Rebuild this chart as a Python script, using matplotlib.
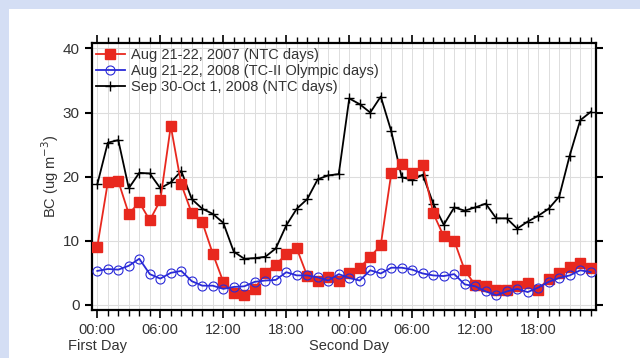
import matplotlib.pyplot as plt
import matplotlib.patches as mpatches
import numpy as np

plt.rcParams['font.family'] = ['Liberation Sans', 'DejaVu Sans']

# hourly BC values over two days (hour 0..47)
hours = np.arange(48)

bc_2007_aug = [9.1, 19.1, 19.3, 14.2, 16.0, 13.2, 16.3, 27.9, 18.8, 14.3, 12.9, 8.0,
               3.6, 1.8, 1.5, 2.5, 5.0, 6.3, 7.9, 8.8, 4.5, 3.8, 4.4, 3.8,
               5.0, 5.8, 7.5, 9.3, 20.5, 22.0, 20.5, 21.8, 14.3, 10.7, 10.0, 5.4,
               3.1, 2.9, 2.4, 2.25, 3.0, 3.4, 2.4, 4.1, 4.9, 5.9, 6.6, 5.7]

bc_2008_aug = [5.3, 5.6, 5.5, 6.1, 7.2, 4.8, 4.1, 5.0, 5.3, 3.7, 3.0, 3.0,
               2.5, 2.8, 2.9, 3.6, 3.8, 3.9, 5.1, 4.6, 4.6, 4.3, 3.8, 4.8,
               4.2, 3.8, 5.4, 4.9, 5.8, 5.8, 5.5, 4.9, 4.6, 4.5, 4.8, 3.2,
               2.9, 2.1, 1.5, 2.1, 2.5, 2.0, 2.7, 3.6, 4.2, 4.6, 5.4, 5.1]

bc_2008_oct = [18.8, 25.3, 25.7, 18.2, 20.6, 20.5, 18.2, 19.1, 20.9, 16.5, 15.0, 14.2,
               12.8, 8.3, 7.2, 7.3, 7.5, 8.8, 12.4, 15.0, 16.5, 19.6, 20.2, 20.4,
               32.2, 31.3, 30.0, 32.5, 27.1, 19.9, 19.5, 20.3, 15.8, 12.5, 15.2, 14.7,
               15.2, 15.8, 13.5, 13.5, 11.9, 13.0, 13.9, 15.0, 16.9, 23.3, 28.8, 30.1]

tick_hours = [0, 6, 12, 18, 24, 30, 36, 42]
tick_labels = ['00:00\nFirst Day', '06:00', '12:00', '18:00',
               '00:00\nSecond Day', '06:00', '12:00', '18:00']

fig = plt.figure(figsize=(6.4, 3.58), dpi=100, facecolor='#d4def4')
# white slide panel behind the chart
fig.patches.append(mpatches.Rectangle((9 / 640, 0), 1, 1 - 9 / 358, transform=fig.transFigure,
                                      facecolor='white', edgecolor='none', zorder=-10))
ax = fig.add_axes([0.143, 0.134, 0.789, 0.745])
ax.set_zorder(1)

ax.plot(hours, bc_2007_aug, color='#e8281e', marker='s', markersize=7, linewidth=1.3,
        label='Aug 21-22, 2007 (NTC days)', zorder=3)
ax.plot(hours, bc_2008_aug, color='#2a2ad8', marker='o', markersize=6.5, markerfacecolor='none',
        markeredgewidth=0.8, linewidth=1.3, label='Aug 21-22, 2008 (TC-II Olympic days)', zorder=4)
ax.plot(hours, bc_2008_oct, color='black', marker='+', markersize=7, linewidth=1.3,
        label='Sep 30-Oct 1, 2008 (NTC days)', zorder=2)

ax.set_xlim(-0.55, 47.55)
ax.set_ylim(-0.8, 40.8)
ax.set_xticks(tick_hours)
ax.set_xticklabels(tick_labels, fontsize=10.5, color='#333333')
ax.set_xticks(hours, minor=True)
ax.set_yticks([0, 10, 20, 30, 40])
ax.tick_params(axis='y', labelsize=11, labelcolor='#333333', direction='out', length=5, width=1.5,
               right=True)
ax.tick_params(axis='x', which='major', direction='out', length=6, width=1.2, top=True, pad=3)
ax.tick_params(axis='x', which='minor', direction='out', length=4, width=1, top=True)
ax.set_ylabel('BC (ug m$^{-3}$)', fontsize=10.5, color='#333333', labelpad=1)

ax.grid(which='minor', axis='x', color='#dddddd', linewidth=0.7)
ax.grid(which='major', axis='x', color='#dddddd', linewidth=0.7)
ax.grid(which='major', axis='y', color='#dddddd', linewidth=0.8)
ax.set_axisbelow(True)
ax.set_facecolor('white')
for s in ax.spines.values():
    s.set_linewidth(1.6)

leg = ax.legend(loc='upper left', frameon=False, fontsize=10.5, handlelength=2.0,
                handletextpad=0.4, labelspacing=0.15, borderaxespad=0.1, borderpad=0.2)
for t in leg.get_texts():
    t.set_color('#333333')

fig.savefig('out.png', dpi=100, facecolor=fig.get_facecolor())
